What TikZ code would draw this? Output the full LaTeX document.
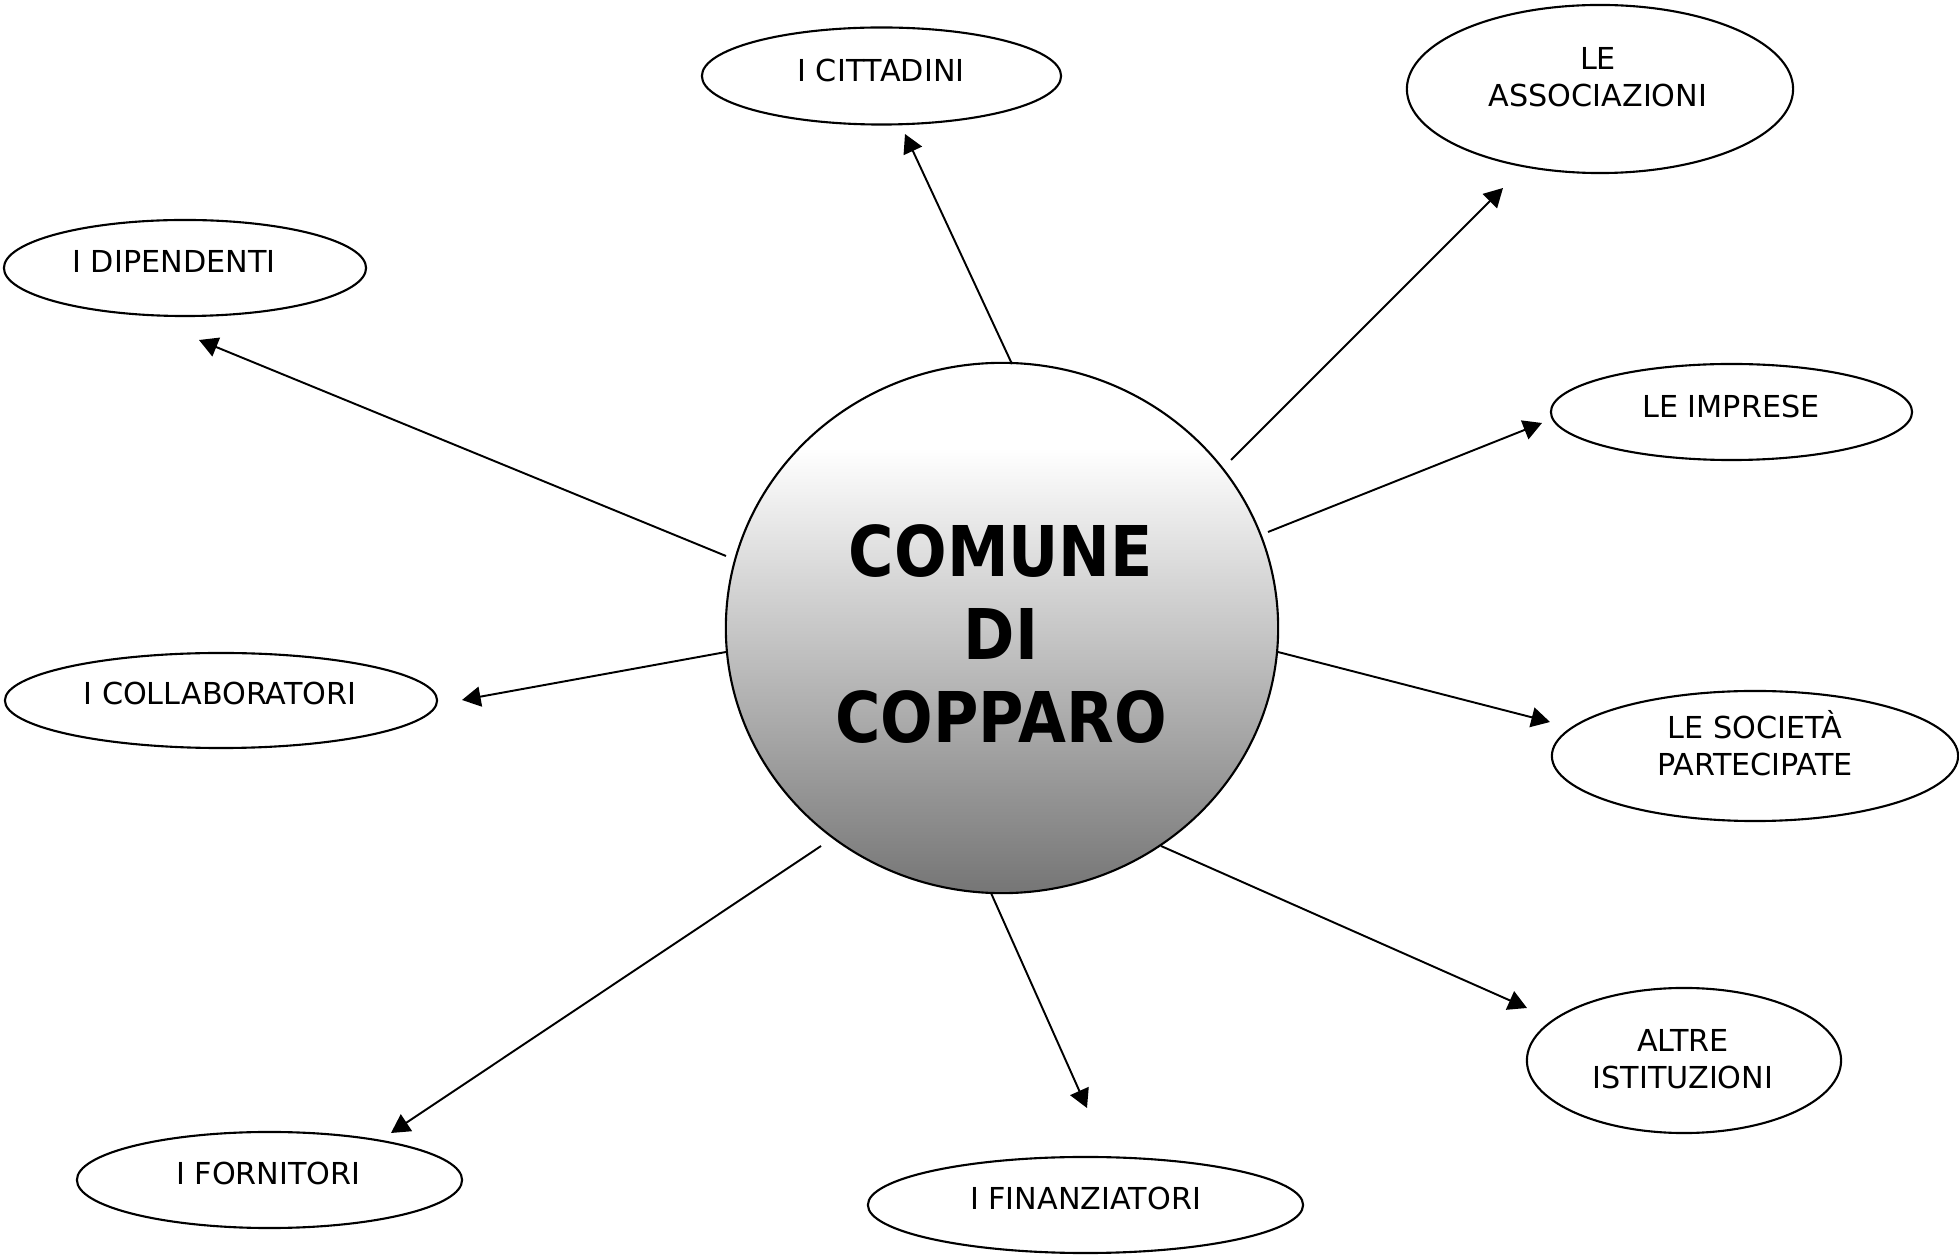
\documentclass[tikz,border=0pt]{standalone}
\usepackage{fontspec}
\setmainfont{DejaVu Sans}
\newfontfamily\titlefont[FakeStretch=0.885]{DejaVu Sans}
\usetikzlibrary{shapes.geometric,arrows.meta}
\definecolor{cbot}{gray}{0.46}
\pgfdeclareverticalshading{circshade}{100bp}{color(0bp)=(cbot); color(25bp)=(cbot); color(67bp)=(white); color(100bp)=(white)}
\begin{document}
\begin{tikzpicture}[x=0.01cm,y=-0.01cm,
  oval/.style={ellipse, draw, line width=0.6pt, inner sep=0pt},
  lbl/.style={anchor=base, align=center, inner sep=0pt, font=\fontsize{8.6}{10.8}\selectfont},
  titletext/.style={anchor=base, inner sep=0pt, font=\titlefont\bfseries\fontsize{19.9}{23.6}\selectfont},
  link/.style={line width=0.55pt, -{Triangle[length=5.3pt,width=5.7pt]}}]
\useasboundingbox (0,0) rectangle (1959,1255);
\fill[white] (0,0) rectangle (1959,1255);

% central circle
\node[ellipse, draw, line width=0.6pt, shade, shading=circshade, inner sep=0pt,
      minimum width=5.52cm, minimum height=5.30cm] (com) at (1002,628) {};
\node[titletext] (t1) at (1001,577) {COMUNE};
\node[titletext] (t2) at (1001,660) {DI};
\node[titletext] (t3) at (1001,743) {COPPARO};

% ovals
\node[oval, minimum width=3.59cm, minimum height=0.97cm] (cit) at (881.5,76) {};
\node[oval, minimum width=3.86cm, minimum height=1.68cm] (ass) at (1600,89) {};
\node[oval, minimum width=3.62cm, minimum height=0.96cm] (dip) at (185,268) {};
\node[oval, minimum width=3.61cm, minimum height=0.96cm] (imp) at (1731.5,412) {};
\node[oval, minimum width=4.32cm, minimum height=0.95cm] (col) at (221,700.5) {};
\node[oval, minimum width=4.06cm, minimum height=1.30cm] (soc) at (1755,756) {};
\node[oval, minimum width=3.14cm, minimum height=1.45cm] (alt) at (1684,1060.5) {};
\node[oval, minimum width=3.85cm, minimum height=0.96cm] (for) at (269.5,1180) {};
\node[oval, minimum width=4.35cm, minimum height=0.96cm] (fin) at (1085.5,1205) {};

% labels (base = baseline of last line)
\node[lbl] (lcit) at (881,82) {I CITTADINI};
\node[lbl] (lass) at (1598,107) {LE\\ASSOCIAZIONI};
\node[lbl] (ldip) at (174,273) {I DIPENDENTI};
\node[lbl] (limp) at (1731,418) {LE IMPRESE};
\node[lbl] (lcol) at (220,705) {I COLLABORATORI};
\node[lbl] (lsoc) at (1755,776) {LE SOCIETÀ\\PARTECIPATE};
\node[lbl] (lalt) at (1683,1089) {ALTRE\\ISTITUZIONI};
\node[lbl] (lfor) at (268.5,1185) {I FORNITORI};
\node[lbl] (lfin) at (1085.5,1209) {I FINANZIATORI};

% connector end points
\coordinate (s1) at (1012,364);  \coordinate (e1) at (905,134);
\coordinate (s2) at (1231,460);  \coordinate (e2) at (1503,188);
\coordinate (s3) at (726,556);   \coordinate (e3) at (199,340);
\coordinate (s4) at (1268,532);  \coordinate (e4) at (1542,423);
\coordinate (s5) at (726,652);   \coordinate (e5) at (462,700);
\coordinate (s6) at (1278,652);  \coordinate (e6) at (1550,722);
\coordinate (s7) at (1161,846);  \coordinate (e7) at (1527,1008);
\coordinate (s8) at (821,846);   \coordinate (e8) at (391,1133);
\coordinate (s9) at (991,893);   \coordinate (e9) at (1087,1108);

\draw[link] (s1) -- (e1);
\draw[link] (s2) -- (e2);
\draw[link] (s3) -- (e3);
\draw[link] (s4) -- (e4);
\draw[link] (s5) -- (e5);
\draw[link] (s6) -- (e6);
\draw[link] (s7) -- (e7);
\draw[link] (s8) -- (e8);
\draw[link] (s9) -- (e9);
\end{tikzpicture}
\end{document}
